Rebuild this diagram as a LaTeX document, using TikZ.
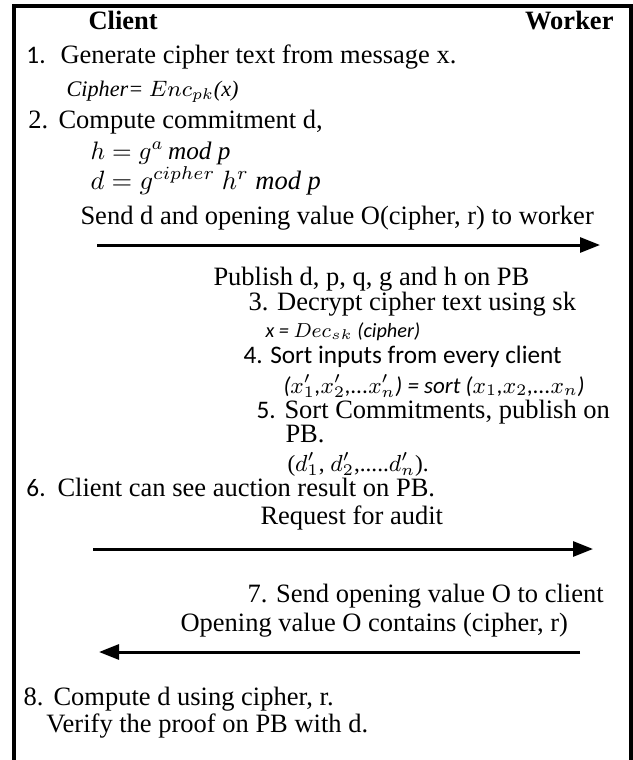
\RequirePackage{fix-cm}
\documentclass[tikz,border=0pt]{standalone}
\usepackage{fontspec}
\setmainfont{Liberation Serif}[BoldFont={Liberation Serif Bold},ItalicFont={Liberation Serif Italic}]
\newfontfamily\carl{Carlito}
\usetikzlibrary{arrows.meta}
\newcommand\calib[1]{{\carl\fontsize{10.1}{12}\selectfont #1}}
\begin{document}
\begin{tikzpicture}[x=0.4pt,y=-0.4pt,
  txt/.style={anchor=base west,inner sep=0pt,font=\fontsize{10.6}{12}\selectfont},
  ctxt/.style={anchor=base west,inner sep=0pt,font=\carl\fontsize{10.1}{12}\selectfont},
  msg/.style={line width=1.2pt,-{Triangle[length=8pt,width=6pt]}}]
\useasboundingbox (0,0) rectangle (633,760);
\draw[line width=1.6pt] (14,770) -- (14,5.5) -- (630.5,5.5) -- (630.5,770);
% headers
\node[txt] (client) at (88,29) {\textbf{Client}};
\node[txt,anchor=base east] (worker) at (614,29) {\textbf{Worker}};
% step 1
\node[ctxt] (s1n) at (26,63) {1.};
\node[txt] (s1) at (60,63) {Generate cipher text from message x.};
\node[txt,font=\fontsize{8.9}{10}\selectfont] (s1m) at (66,96) {\textit{Cipher=} $Enc_{pk}$\textit{(x)}};
% step 2
\node[txt] (s2n) at (28,128) {2.};
\node[txt] (s2) at (58,128) {Compute commitment d,};
\node[txt,font=\fontsize{10.1}{12}\selectfont] (s2a) at (90,159) {$h = g^{a}$\,\textit{mod p}};
\node[txt] (s2b) at (90,189) {$d = g^{cipher}$ $h^{r}$ \textit{mod p}};
\node[txt] (s2c) at (80,224) {Send d and opening value O(cipher, r) to worker};
\coordinate (a1s) at (97,245);
\coordinate (a1e) at (600,245);
\draw[msg] (a1s) -- (a1e);
\node[txt] (pub) at (213,285) {Publish d, p, q, g and h on PB};
% step 3
\node[txt] (s3) at (248,310) {3. Decrypt cipher text using sk};
\node[ctxt,font=\carl\fontsize{8.1}{9}\selectfont] (s3m) at (265,337) {\itshape x = $Dec_{sk}$ (cipher)};
% step 4
\node[ctxt] (s4) at (243,363) {4. Sort inputs from every client};
\node[ctxt,font=\carl\fontsize{9.2}{11}\selectfont] (s4m) at (283,393) {\itshape ($x'_1$,$x'_2$,...$x'_n$) = sort ($x_1$,$x_2$,...$x_n$)};
% step 5
\node[txt] (s5) at (256,418) {\calib{5.} Sort Commitments, publish on};
\node[txt] (s5b) at (285,442) {PB.};
\node[txt,font=\fontsize{9.3}{11}\selectfont] (s5m) at (287,471) {($d'_1$, $d'_2$,.....$d'_n$).};
% step 6
\node[ctxt] (s6n) at (26,496) {6.};
\node[txt] (s6) at (57,496) {Client can see auction result on PB.};
\node[txt] (req) at (260,524) {Request for audit};
\coordinate (a2s) at (93,549);
\coordinate (a2e) at (593,549);
\draw[msg] (a2s) -- (a2e);
% step 7
\node[txt] (s7) at (247,602) {7. Send opening value O to client};
\node[txt] (s7b) at (180,631) {Opening value O contains (cipher, r)};
\coordinate (a3s) at (580,652);
\coordinate (a3e) at (99,652);
\draw[msg] (a3s) -- (a3e);
% step 8
\node[txt] (s8n) at (23,705) {8.};
\node[txt] (s8) at (53,705) {Compute d using cipher, r.};
\node[txt] (s8b) at (46,732) {Verify the proof on PB with d.};
\end{tikzpicture}
\end{document}
